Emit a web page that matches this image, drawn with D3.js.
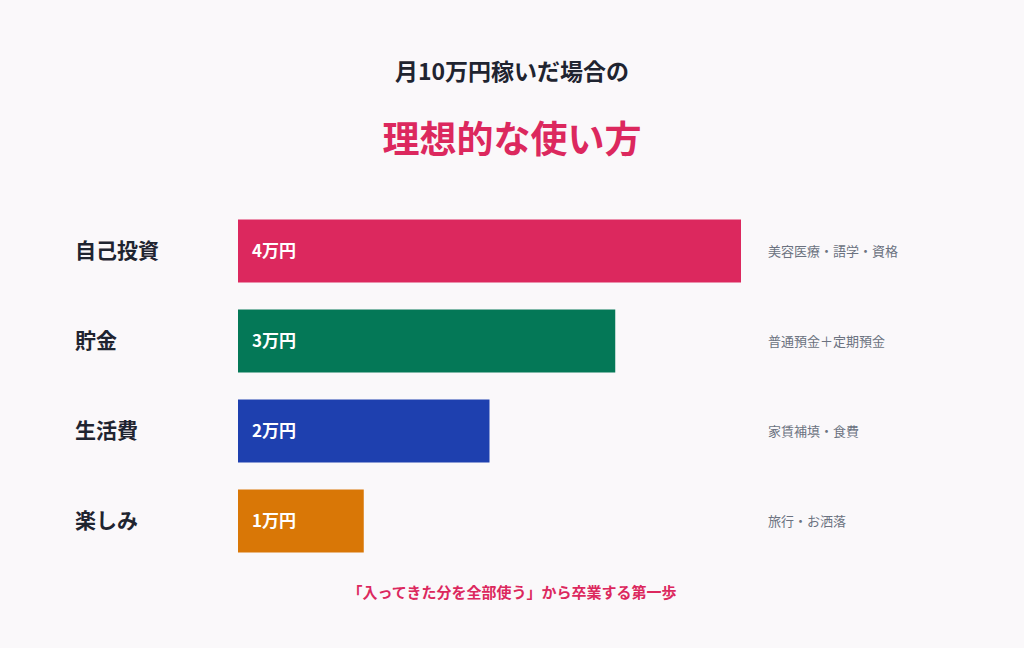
<!DOCTYPE html>
<html><head><meta charset="utf-8">
<script src="https://cdn.jsdelivr.net/npm/d3@7"></script>
<style>body{margin:0;background:#faf8fa;font-family:"Noto Sans CJK JP","Noto Sans",sans-serif}</style>
</head><body><div id="chart"></div>
<script>
const CATEGORIES = ["自己投資", "貯金", "生活費", "楽しみ"]
const VALUES = [4, 3, 2, 1]
const VALUE_LABELS = ["4万円", "3万円", "2万円", "1万円"]
const NOTES = ["美容医療・語学・資格", "普通預金＋定期預金", "家賃補填・食費", "旅行・お洒落"]
const COLORS = ["#dc285e", "#047857", "#1e40af", "#d97706"]

const WIDTH = 1024, HEIGHT = 648

const svg = d3.select("#chart").append("svg")
  .attr("width", WIDTH).attr("height", HEIGHT)

svg.append("rect").attr("width", WIDTH).attr("height", HEIGHT).attr("fill", "#faf8fa")

// titles
svg.append("text").attr("x", 512).attr("y", 80).attr("text-anchor", "middle")
  .attr("font-size", 23).attr("font-weight", 700).attr("fill", "#1f2430")
  .text("月10万円稼いだ場合の")
svg.append("text").attr("x", 512).attr("y", 153).attr("text-anchor", "middle")
  .attr("font-size", 37).attr("font-weight", 700).attr("fill", "#dc285e")
  .text("理想的な使い方")

const x = d3.scaleLinear().domain([0, 4]).range([238, 741])
const y = d3.scaleBand().domain(CATEGORIES).range([206, 566]).paddingInner(0.3).paddingOuter(0.15)

const rows = svg.selectAll("g.row").data(CATEGORIES).enter().append("g").attr("class", "row")

rows.append("rect")
  .attr("x", x(0))
  .attr("y", d => y(d))
  .attr("width", (d, i) => x(VALUES[i]) - x(0))
  .attr("height", y.bandwidth())
  .attr("fill", (d, i) => COLORS[i])

rows.append("text")
  .attr("x", 75).attr("y", d => y(d) + y.bandwidth() / 2)
  .attr("dy", "0.35em").attr("font-size", 21).attr("font-weight", 700).attr("fill", "#1f2430")
  .text(d => d)

rows.append("text")
  .attr("x", x(0) + 14).attr("y", d => y(d) + y.bandwidth() / 2)
  .attr("dy", "0.35em").attr("font-size", 17).attr("font-weight", 700).attr("fill", "#fff")
  .text((d, i) => VALUE_LABELS[i])

rows.append("text")
  .attr("x", 768).attr("y", d => y(d) + y.bandwidth() / 2)
  .attr("dy", "0.35em").attr("font-size", 13).attr("fill", "#6b7280")
  .text((d, i) => NOTES[i])

svg.append("text").attr("x", 512).attr("y", 598).attr("text-anchor", "middle")
  .attr("font-size", 15).attr("font-weight", 700).attr("fill", "#dc285e")
  .text("「入ってきた分を全部使う」から卒業する第一歩")
</script></body></html>
